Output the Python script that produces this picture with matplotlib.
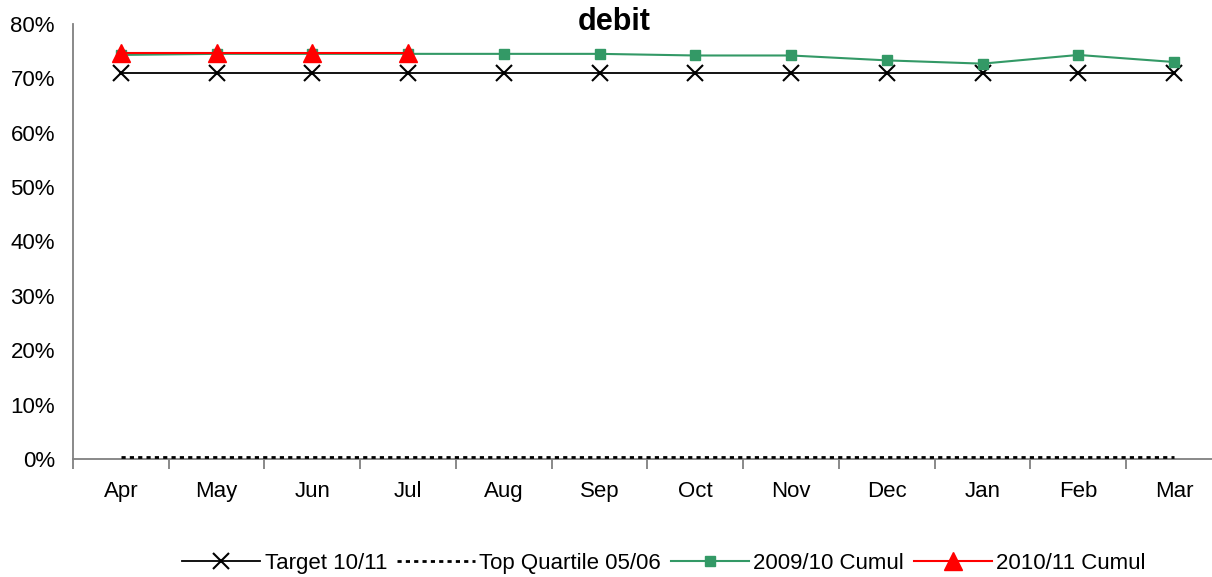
import matplotlib.pyplot as plt
import numpy as np

plt.rcParams['font.family'] = ['Liberation Sans', 'DejaVu Sans']

meses = ['Apr', 'May', 'Jun', 'Jul', 'Aug', 'Sep', 'Oct', 'Nov', 'Dec', 'Jan', 'Feb', 'Mar']
target = [0.71] * 12  # Target 10/11
top_quartil = [0.003] * 12  # Top Quartile 05/06
cumul_0910 = [0.743, 0.745, 0.745, 0.745, 0.745, 0.745, 0.742, 0.742, 0.733, 0.727, 0.743, 0.730]
cumul_1011 = [0.746, 0.746, 0.746, 0.746]

x = np.arange(len(meses))

fig = plt.figure(figsize=(12.12, 5.77), dpi=100)
ax = fig.add_axes([0.0602, 0.2045, 0.948, 0.754])

ax.plot(x, target, color='black', lw=1.3, marker='x', ms=12, mew=1.5, label='Target 10/11')
ax.plot(x, top_quartil, color='black', lw=2, ls=(0, (1.5, 1.5)), label='Top Quartile 05/06', zorder=3)
ax.plot(x, cumul_0910, color='#339966', lw=1.5, marker='s', ms=7.5, label='2009/10 Cumul')
ax.plot(x[:len(cumul_1011)], cumul_1011, color='red', lw=1.5, marker='^', ms=13, label='2010/11 Cumul')

ax.set_xlim(-0.5, 11.5)
ax.set_ylim(0, 0.8)
ax.set_yticks(np.arange(0, 0.81, 0.1))
ax.set_yticklabels([f'{int(round(v * 100))}%' for v in np.arange(0, 0.81, 0.1)])
ax.set_xticks(x)
ax.set_xticklabels(meses)
ax.set_xticks(np.arange(-0.5, 12, 1), minor=True)
ax.tick_params(axis='x', which='major', length=0, pad=16)
ax.tick_params(axis='x', which='minor', length=7, color='gray', width=1.3)
ax.tick_params(axis='y', length=0, pad=13)
ax.tick_params(labelsize=16)

for s in ['top', 'right']:
    ax.spines[s].set_visible(False)
for s in ['left', 'bottom']:
    ax.spines[s].set_color('gray')
    ax.spines[s].set_linewidth(1.3)

fig.text(0.507, 0.962, 'debit', ha='center', va='center', fontsize=22, fontweight='bold')

fig.legend(loc='center', bbox_to_anchor=(0.548, 0.024), ncol=4, frameon=False,
           fontsize=16, handlelength=3.5, handletextpad=0.2, columnspacing=0.45)

fig.savefig('out.png', dpi=100)
